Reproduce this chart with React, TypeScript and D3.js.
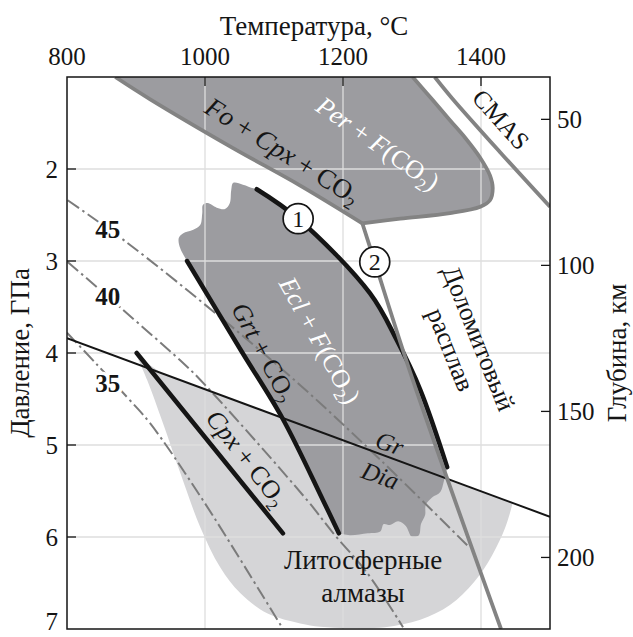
import React from "react";
import * as d3 from "d3";

type Pt = [number, number];

// Axis ticks
const tempTicks = [800, 1000, 1200, 1400];
const pressureTicks = [2, 3, 4, 5, 6, 7];
const depthTicks = [50, 100, 150, 200];
const gridTemps = [1000, 1200, 1400];
const gridPressures = [2, 3, 4, 5, 6];

// Phase boundaries, [T °C, P GPa]
const foBoundary: Pt[] = [[870, 1.0], [920, 1.24], [1040, 1.77], [1138, 2.18], [1228, 2.59]];
const perBoundary: Pt[] = [[1228, 2.59], [1283, 2.54], [1355, 2.48], [1399, 2.41], [1413, 2.34], [1417, 2.21], [1413, 2.07], [1399, 1.88], [1377, 1.66], [1355, 1.47], [1330, 1.25], [1301, 1.0]];
const cmasSolidus: Pt[] = [[1333, 1.0], [1358, 1.23], [1428, 1.82], [1500, 2.41]];
const curve2: Pt[] = [[1228, 2.59], [1246, 3.01], [1301, 4.29], [1429, 7.0]];
const curve1: Pt[] = [[1075, 2.22], [1135, 2.54], [1239, 3.35], [1278, 3.86], [1312, 4.4], [1351, 5.24]];
const grtCurve: Pt[] = [[974, 3.0], [1052, 3.97], [1113, 4.72], [1171, 5.6], [1194, 5.96]];
const cpxCurve: Pt[] = [[901, 4.0], [1113, 5.96]];
const graphiteDiamond: Pt[] = [[800, 3.84], [1500, 5.78]];

// Eclogite field edges
const eclUpperEdge: Pt[] = [[974, 3.0], [964, 2.86], [962, 2.75], [968, 2.7], [983, 2.66], [993, 2.61], [996, 2.48], [997, 2.39], [1004, 2.37], [1017, 2.42], [1029, 2.435], [1036, 2.37], [1038, 2.23], [1041, 2.15], [1055, 2.17], [1070, 2.21], [1075, 2.22]];
const eclLowerEdge: Pt[] = [[1351, 5.24], [1346, 5.4], [1341, 5.51], [1329, 5.57], [1320, 5.65], [1319, 5.76], [1313, 5.86], [1310, 5.98], [1300, 6.0], [1291, 5.88], [1280, 5.83], [1268, 5.87], [1259, 5.86], [1254, 5.94], [1236, 5.96], [1210, 5.98], [1194, 5.96]];

// Lithospheric diamond field
const diamondTop: Pt[] = [[901, 4.03], [935, 4.21], [1446, 5.63]];
const diamondOutline: Pt[] = [[1446, 5.63], [1435, 5.9], [1416, 6.2], [1390, 6.49], [1355, 6.74], [1312, 6.9], [1261, 6.98], [1210, 6.99], [1167, 6.975], [1138, 6.94], [1090, 6.83], [1051, 6.61], [1022, 6.33], [993, 5.89], [964, 5.3], [939, 4.76], [916, 4.29], [901, 4.03]];

// Conductive geotherms, mW/m²
const geotherm45: Pt[] = [[801, 2.34], [887, 2.8], [1022, 3.61], [1138, 4.35], [1254, 5.16], [1380, 6.09]];
const geotherm40: Pt[] = [[801, 3.01], [881, 3.53], [964, 4.08], [993, 4.29], [1148, 5.6], [1186, 5.96], [1235, 6.39], [1287, 6.98]];
const geotherm35: Pt[] = [[800, 3.78], [844, 4.13], [887, 4.48], [920, 4.76], [997, 5.6], [1113, 7.0]];
const geothermNames = ["45", "40", "35"];
const geothermLabelAt: Pt[] = [[859, 2.65], [859, 3.38], [859, 4.33]];

const W = 633;
const H = 637;
const x = d3.scaleLinear().domain([800, 1500]).range([67, 550]);
const y = d3.scaleLinear().domain([1, 7]).range([77, 629]);
const yDepth = d3.scaleLinear().domain([35.5, 224.5]).range([77, 629]);

const smooth = d3.line<Pt>().x((d) => x(d[0])).y((d) => y(d[1])).curve(d3.curveCatmullRom.alpha(0.5));
const straight = d3.line<Pt>().x((d) => x(d[0])).y((d) => y(d[1]));
const cont = (p: string | null) => (p || "").replace(/^M/, "L");

const SERIF = "'Liberation Serif', 'Times New Roman', serif";
const DARK = "#9c9ca0";
const LIGHT = "#d5d5d7";
const GRAYLINE = "#838383";
const INK = "#151515";

function Sub({ children, size = 17 }: { children: React.ReactNode; size?: number }) {
  return (
    <tspan dy={6} fontSize={size}>
      {children}
    </tspan>
  );
}

function Label({ at, angle, children, fill = INK, size = 26, anchor = "middle" }: any) {
  return (
    <text
      transform={`translate(${x(at[0])},${y(at[1])}) rotate(${angle})`}
      textAnchor={anchor}
      dy="0.35em"
      fontFamily={SERIF}
      fontSize={size}
      fill={fill}
    >
      {children}
    </text>
  );
}

export default function App() {
  const perFill = `${smooth(foBoundary)}${cont(smooth(perBoundary))}Z`;
  const eclFill = `${smooth(eclUpperEdge)}${cont(smooth(curve1))}${cont(smooth(eclLowerEdge))}${cont(
    smooth([...grtCurve].reverse())
  )}Z`;
  const diamondFill = `${straight(diamondTop)}${cont(smooth(diamondOutline))}Z`;
  const geotherms = [geotherm45, geotherm40, geotherm35];

  const [x0, x1] = x.range();
  const [y0, y1] = y.range();

  return (
    <svg width={W} height={H} style={{ display: "block", position: "absolute", left: 0, top: 0 }}>
      <defs>
        <clipPath id="plot">
          <rect x={x0} y={y0} width={x1 - x0} height={y1 - y0} />
        </clipPath>
      </defs>
      <rect width={W} height={H} fill="#fff" />

      <g clipPath="url(#plot)">
        {/* fields */}
        <path d={diamondFill} fill={LIGHT} />
        <path d={perFill} fill={DARK} />
        <path d={eclFill} fill={DARK} />

        {/* grid */}
        {gridTemps.map((t) => (
          <line key={"gx" + t} x1={x(t)} x2={x(t)} y1={y0} y2={y1} stroke="#dedede" strokeWidth={1.3} />
        ))}
        {gridPressures.map((p) => (
          <line key={"gy" + p} x1={x0} x2={x1} y1={y(p)} y2={y(p)} stroke="#dedede" strokeWidth={1.3} />
        ))}

        {/* geotherms */}
        {geotherms.map((g, i) => (
          <path key={"g" + i} d={smooth(g) || ""} fill="none" stroke="#7b7b7b" strokeWidth={2} strokeDasharray="14 4 2.5 4" />
        ))}

        {/* graphite–diamond */}
        <path d={straight(graphiteDiamond) || ""} fill="none" stroke={INK} strokeWidth={2} />

        {/* solidi and reactions */}
        <path d={smooth(cpxCurve) || ""} fill="none" stroke={INK} strokeWidth={4.5} strokeLinecap="round" />
        <path d={smooth(grtCurve) || ""} fill="none" stroke={INK} strokeWidth={4.5} strokeLinecap="round" />
        <path d={smooth(curve1) || ""} fill="none" stroke={INK} strokeWidth={4.5} strokeLinecap="round" />

        <path d={smooth(foBoundary) || ""} fill="none" stroke={GRAYLINE} strokeWidth={3.8} />
        <path d={smooth(perBoundary) || ""} fill="none" stroke={GRAYLINE} strokeWidth={3.8} />
        <path d={smooth(cmasSolidus) || ""} fill="none" stroke={GRAYLINE} strokeWidth={3.8} />
        <path d={smooth(curve2) || ""} fill="none" stroke={GRAYLINE} strokeWidth={3.8} />
      </g>

      {/* geotherm labels */}
      {geothermNames.map((n, i) => (
        <text
          key={n}
          x={x(geothermLabelAt[i][0])}
          y={y(geothermLabelAt[i][1])}
          dy="0.35em"
          textAnchor="middle"
          fontFamily={SERIF}
          fontWeight="bold"
          fontSize={25}
          fill={INK}
          stroke="#fff"
          strokeWidth={7}
          paintOrder="stroke"
        >
          {n}
        </text>
      ))}

      {/* curve markers */}
      {[
        { n: "1", at: curve1[1] },
        { n: "2", at: curve2[1] },
      ].map((c) => (
        <g key={c.n} transform={`translate(${x(c.at[0])},${y(c.at[1])})`}>
          <circle r={15} fill="#fff" stroke={INK} strokeWidth={1.7} />
          <text textAnchor="middle" dy="0.35em" fontFamily={SERIF} fontSize={24} fill={INK}>
            {c.n}
          </text>
        </g>
      ))}

      {/* field labels */}
      <Label at={[1113, 1.8]} angle={32} size={27}>
        <tspan fontStyle="italic">Fo</tspan> + <tspan fontStyle="italic">Cpx</tspan> + CO<Sub>2</Sub>
      </Label>
      <Label at={[1251, 1.72]} angle={35} fill="#fff">
        <tspan fontStyle="italic">Per</tspan> + <tspan fontStyle="italic">F</tspan>(CO<Sub>2</Sub>
        <tspan dy={-6}>)</tspan>
      </Label>
      <Label at={[1429, 1.46]} angle={48} size={25}>
        CMAS
      </Label>
      <Label at={[1167, 3.86]} angle={61} fill="#fff">
        <tspan fontStyle="italic">Ecl</tspan> + <tspan fontStyle="italic">F</tspan>(CO<Sub>2</Sub>
        <tspan dy={-6}>)</tspan>
      </Label>
      <Label at={[1086, 3.99]} angle={62}>
        <tspan fontStyle="italic">Grt</tspan> + CO<Sub>2</Sub>
      </Label>
      <Label at={[1061, 5.14]} angle={52}>
        <tspan fontStyle="italic">Cpx</tspan> + CO<Sub>2</Sub>
      </Label>
      <Label at={[1268, 4.98]} angle={20} size={25}>
        <tspan fontStyle="italic">Gr</tspan>
      </Label>
      <Label at={[1254, 5.33]} angle={20} size={25}>
        <tspan fontStyle="italic">Dia</tspan>
      </Label>
      <g transform={`translate(${x(1377)},${y(3.9)}) rotate(68)`} fontFamily={SERIF} fontSize={26} fill={INK} textAnchor="middle">
        <text y={-15} dy="0.35em">Доломитовый</text>
        <text y={15} dy="0.35em">расплав</text>
      </g>
      <g transform={`translate(${x(1229)},${y(6.42)})`} fontFamily={SERIF} fontSize={27} fill={INK} textAnchor="middle">
        <text y={-16} dy="0.35em">Литосферные</text>
        <text y={17} dy="0.35em">алмазы</text>
      </g>

      {/* frame */}
      <rect x={x0} y={y0} width={x1 - x0} height={y1 - y0} fill="none" stroke={INK} strokeWidth={1.5} />

      {/* top temperature axis */}
      {tempTicks.map((t) => (
        <g key={"t" + t}>
          {t > 800 && <line x1={x(t)} x2={x(t)} y1={y0} y2={y0 + 9} stroke={INK} strokeWidth={1.3} />}
          <text x={x(t)} y={y0 - 12} textAnchor="middle" fontFamily={SERIF} fontSize={25} fill={INK}>
            {t}
          </text>
        </g>
      ))}
      <text x={314} y={35} textAnchor="middle" fontFamily={SERIF} fontSize={27} fill={INK}>
        Температура, °C
      </text>

      {/* left pressure axis */}
      {pressureTicks.map((p) => (
        <g key={"p" + p}>
          {p < 7 && <line x1={x0} x2={x0 + 9} y1={y(p)} y2={y(p)} stroke={INK} strokeWidth={1.3} />}
          <text x={x0 - 9} y={Math.min(y(p), 621)} dy="0.35em" textAnchor="end" fontFamily={SERIF} fontSize={25} fill={INK}>
            {p}
          </text>
        </g>
      ))}
      <text transform={`translate(29,${(y0 + y1) / 2}) rotate(-90)`} textAnchor="middle" fontFamily={SERIF} fontSize={27} fill={INK}>
        Давление, ГПа
      </text>

      {/* right depth axis */}
      {depthTicks.map((d) => (
        <g key={"d" + d}>
          <line x1={x1 - 9} x2={x1} y1={yDepth(d)} y2={yDepth(d)} stroke={INK} strokeWidth={1.3} />
          <text x={x1 + 7} y={yDepth(d)} dy="0.35em" textAnchor="start" fontFamily={SERIF} fontSize={25} fill={INK}>
            {d}
          </text>
        </g>
      ))}
      <text transform={`translate(626,${(y0 + y1) / 2}) rotate(-90)`} textAnchor="middle" fontFamily={SERIF} fontSize={27} fill={INK}>
        Глубина, км
      </text>
    </svg>
  );
}
